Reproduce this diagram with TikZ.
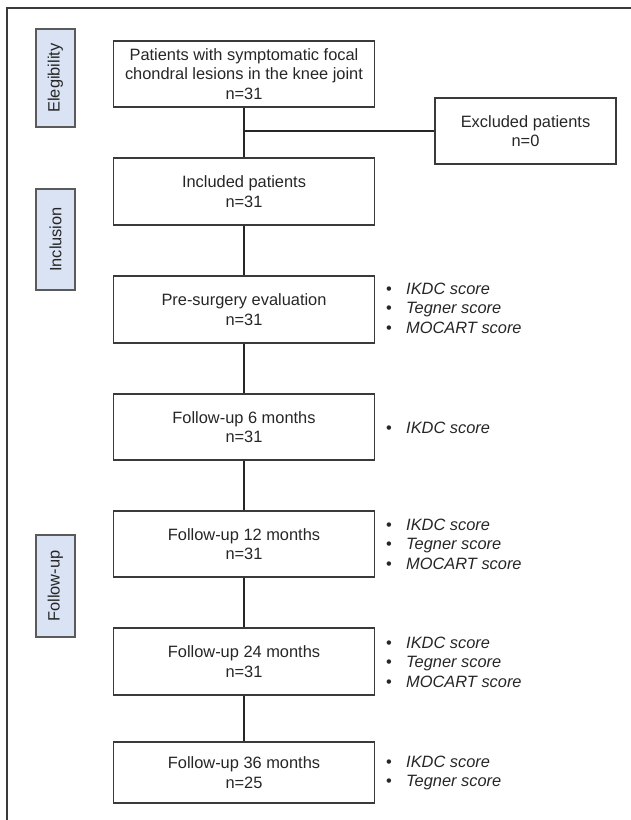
\documentclass[tikz,border=0pt]{standalone}
\usepackage{fontspec}
\setmainfont{Liberation Sans}
\newcommand\myfs{\fontsize{16.4}{19.5}\selectfont}
\definecolor{txt}{HTML}{262626}
\definecolor{boxc}{HTML}{3A3A3A}
\definecolor{labfill}{HTML}{DAE3F3}
\definecolor{labdraw}{HTML}{5A5A5A}
\newcommand\bl[1]{\makebox[20pt][l]{\textbullet}\textit{#1}}
\begin{document}
\begin{tikzpicture}[x=1pt,y=-1pt,
  box/.style={draw=boxc, line width=1.3pt, minimum width=261pt, minimum height=66pt,
    align=center, inner sep=0pt, font=\myfs, text=txt},
  labbox/.style={draw=labdraw, fill=labfill, line width=1.3pt, minimum height=39pt,
    inner sep=0pt, rotate=90, font=\myfs, text=txt},
  bullets/.style={anchor=west, inner sep=0pt, align=left, font=\myfs, text=txt},
  conn/.style={draw=txt, line width=1.8pt},
  frame/.style={draw=boxc, line width=1.4pt}]
\useasboundingbox (0,0) rectangle (631,820);
% frame
\coordinate (ftr) at (631,8);
\coordinate (ftl) at (7,8);
\coordinate (fbl) at (7,820);
\draw[frame] (ftr) -- (ftl) -- (fbl);
% stage labels
\node[labbox, minimum width=98pt] (lel) at (55.5,78) {Elegibility};
\node[labbox, minimum width=101pt] (lin) at (55.5,239.5) {Inclusion};
\node[labbox, minimum width=102pt] (lfu) at (55.5,586) {Follow-up};
% main boxes
\node[box] (b1) at (244,74) {Patients with symptomatic focal\\chondral lesions in the knee joint\\n=31};
\node[box, minimum width=181pt] (ex) at (525.5,131) {Excluded patients\\n=0};
\node[box, minimum height=67pt] (b2) at (244,191.5) {Included patients\\n=31};
\node[box, minimum height=67pt] (b3) at (244,309.5) {Pre-surgery evaluation\\n=31};
\node[box] (b4) at (244,427) {Follow-up 6 months\\n=31};
\node[box] (b5) at (244,544) {Follow-up 12 months\\n=31};
\node[box, minimum height=67pt] (b6) at (244,661.5) {Follow-up 24 months\\n=31};
\node[box, minimum height=61pt] (b7) at (244,772.5) {Follow-up 36 months\\n=25};
% connectors
\coordinate (j) at (244,131);
\draw[conn] (b1) -- (b2);
\draw[conn] (j) -- (ex.west);
\draw[conn] (b2) -- (b3);
\draw[conn] (b3) -- (b4);
\draw[conn] (b4) -- (b5);
\draw[conn] (b5) -- (b6);
\draw[conn] (b6) -- (b7);
% bullet lists
\node[bullets] (l3) at (386,308) {\bl{IKDC score}\\\bl{Tegner score}\\\bl{MOCART score}};
\node[bullets] (l4) at (386,428) {\bl{IKDC score}};
\node[bullets] (l5) at (386,544) {\bl{IKDC score}\\\bl{Tegner score}\\\bl{MOCART score}};
\node[bullets] (l6) at (386,662) {\bl{IKDC score}\\\bl{Tegner score}\\\bl{MOCART score}};
\node[bullets] (l7) at (386,773) {\bl{IKDC score}\\\bl{Tegner score}};
\end{tikzpicture}
\end{document}
